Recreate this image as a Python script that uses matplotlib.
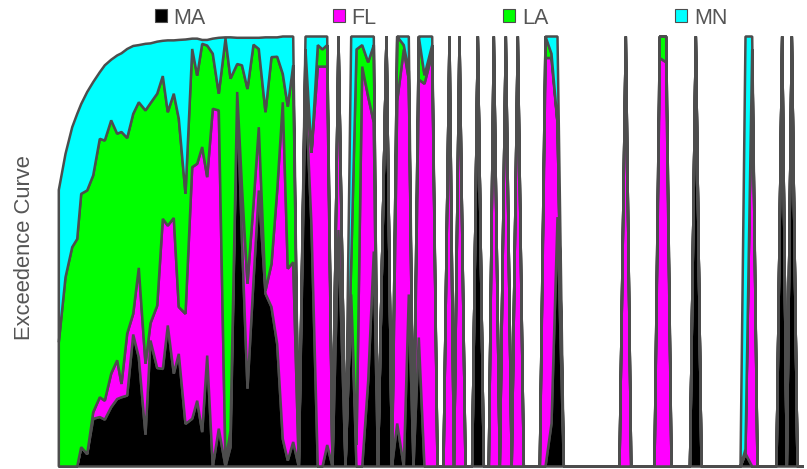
import matplotlib
matplotlib.use("Agg")
import matplotlib.pyplot as plt
from matplotlib.patches import Patch

# position along the x axis (axis units)
x_pos = [58.3, 65, 71.7, 76.7, 80.7, 86.7, 92.7, 99.3, 104.3, 110.7,
         116.7, 121, 126.7, 132.7, 138.3, 145, 150, 156.7, 162.3, 167.3,
         173.3, 178.3, 185, 191.7, 196.7, 201.7, 206.7, 212.3, 218.3, 225,
         230, 236.7, 241.5, 247, 253, 258.3, 265, 271, 276.7, 282.3,
         287.3, 292.7, 298.3,
         305, 311, 317.3, 322, 326.7, 332, 338, 345, 350.7, 356,
         361.7, 367.7, 373.3, 377.5, 386, 391.5, 396.7, 403.3, 408.3, 413,
         418.3, 424, 431.7, 437,
         443, 449, 453.5, 459, 465, 471.7, 477.3, 483.3, 488.3, 493.3,
         499.3, 505.3, 511.2, 517.3, 523.3, 539.3, 545, 551, 557, 563.3,
         619, 625.3, 630.7, 654, 659.3, 665.7, 671, 689.5, 695.3, 701,
         740, 745, 751.7, 757, 776, 781.7, 786.3, 791.3, 797, 803]

# share of each region (percent of the full scale)
ma = [0, 0, 0, 0, 4.5, 2.9, 11.1, 11.5, 10.9, 13.8,
      15.7, 16.1, 16.5, 30.7, 25.4, 7.4, 29.3, 22.9, 22.7, 32.8,
      21.6, 26.2, 9.9, 11.1, 15.3, 8.0, 25.8, 0, 8.8, 0,
      4.5, 87.1, 52.6, 18.1, 43.3, 64.2, 40.2, 37.1, 28.5, 6.4,
      1.4, 5.7, 0,
      88, 56, 0, 0, 5, 0, 55, 0, 40, 0,
      0, 20, 50, 0, 100, 0, 10, 0, 40, 0,
      30, 0, 0, 0,
      0, 0, 0, 0, 0, 0, 100, 0, 0, 0,
      0, 0, 0, 0, 0, 0, 0, 10, 58, 0,
      0, 0, 0, 0, 0, 0, 0, 0, 100, 0,
      0, 3, 0, 0, 0, 100, 0, 100, 0, 0]
fl = [0, 0, 0, 0, 0, 0, 1.5, 4.6, 4.4, 7.8,
      9.0, 3.1, 14.4, 4.8, 20.8, 16.5, 4.0, 14.5, 34.9, 23.2,
      36.2, 10.9, 25.6, 58.5, 55.1, 66.3, 41.5, 83.2, 74.0, 1.0,
      3.9, 0, 12.4, 24.4, 17.8, 14.7, 0.7, 10.0, 35.7, 78.3,
      44.6, 41.8, 0,
      6, 17, 93, 93, 88, 0, 45, 0, 0, 5,
      93, 66, 30, 0, 0, 0, 75, 97, 50, 0,
      60, 89, 96, 0,
      0, 100, 0, 100, 0, 0, 0, 0, 0, 100,
      0, 100, 0, 100, 0, 0, 95, 85, 22, 0,
      0, 100, 0, 0, 95, 94, 0, 0, 0, 0,
      0, 0, 97, 0, 0, 0, 0, 0, 0, 0]
la = [28.9, 44.0, 51.0, 52.9, 58.9, 61.3, 55.1, 60.1, 60.5, 58.9,
      52.7, 58.6, 45.5, 46.5, 38.5, 58.9, 51.2, 49.3, 33.2, 26.4,
      28.9, 43.8, 27.9, 27.5, 20.5, 24.0, 30.6, 12.8, 3.9, 98.5,
      81.8, 6.5, 28.3, 45.3, 37.0, 18.2, 41.5, 48.1, 31.1, 6.6,
      37.7, 45.8, 0,
      3, 0, 5, 4, 5, 0, 0, 0, 7, 92,
      5, 8, 18, 0, 0, 0, 15, 1, 2, 0,
      10, 2, 2, 0,
      0, 0, 0, 0, 0, 0, 0, 0, 0, 0,
      0, 0, 0, 0, 0, 0, 5, 1, 0, 0,
      0, 0, 0, 0, 5, 6, 0, 0, 0, 0,
      0, 1, 0, 0, 0, 0, 0, 0, 0, 0]
mn = [35.4, 28.7, 27.9, 29.1, 20.9, 22.9, 21.7, 15.5, 17.5, 14.1,
      18.2, 18.3, 20.7, 15.8, 13.3, 15.5, 13.9, 12.1, 8.2, 16.7,
      12.4, 18.3, 35.9, 2.4, 8.6, 0.9, 1.3, 3.5, 13.0, 0.3,
      9.6, 6.1, 6.4, 11.9, 1.6, 2.6, 17.4, 4.6, 4.5, 8.7,
      16.3, 6.7, 0,
      3, 27, 2, 3, 2, 0, 0, 0, 53, 3,
      2, 6, 2, 0, 0, 0, 0, 2, 8, 0,
      0, 9, 2, 0,
      0, 0, 0, 0, 0, 0, 0, 0, 0, 0,
      0, 0, 0, 0, 0, 0, 0, 4, 20, 0,
      0, 0, 0, 0, 0, 0, 0, 0, 0, 0,
      0, 96, 3, 0, 0, 0, 0, 0, 0, 0]

labels = ["MA", "FL", "LA", "MN"]
colors = ["#000000", "#ff00ff", "#00ff00", "#00ffff"]
edge = "#4d4d4d"
text_gray = "#555555"

plt.rcParams['font.family'] = ['Liberation Sans', 'DejaVu Sans']

W, H = 807, 469
fig = plt.figure(figsize=(W / 100, H / 100), dpi=100)

x_left, x_right = x_pos[0], x_pos[-1]
ax = fig.add_axes([x_left / W, (H - 466) / H, (x_right - x_left) / W, 430 / H])

polys = ax.stackplot(x_pos, ma, fl, la, mn, colors=colors,
                     edgecolor=edge, linewidth=1.8)
for p in polys:
    p.set_joinstyle("bevel")
    p.set_clip_on(False)

ax.set_xlim(x_left, x_right)
ax.set_ylim(0, 100)
ax.axis("off")

fig.text(25 / W, (H - 248) / H, "Exceedence Curve", rotation=90,
         ha="center", va="center", fontsize=15.8, color=text_gray)

handles = [Patch(facecolor=c, edgecolor=edge, linewidth=0.8) for c in colors]
fig.legend(handles, labels, ncol=4, loc="center left",
           bbox_to_anchor=(155 / W, (H - 18) / H), frameon=False,
           fontsize=15.5, labelcolor=text_gray, borderpad=0, borderaxespad=0,
           handlelength=0.56, handleheight=0.56, handletextpad=0.3,
           columnspacing=5.9)

fig.savefig("out.png", dpi=100)
